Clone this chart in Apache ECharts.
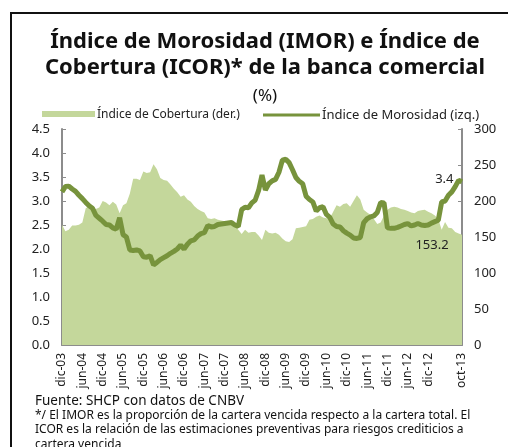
<!DOCTYPE html>
<html>
<head>
<meta charset="utf-8">
<script src="https://cdn.jsdelivr.net/npm/echarts@6/dist/echarts.min.js"></script>
<style>
html,body{margin:0;padding:0;background:#fff;}
#chart{width:508px;height:447px;}
</style>
</head>
<body>
<div id="chart"></div>
<script>
// Monthly data from dic-03 to oct-13
var monthNames = ["ene","feb","mar","abr","may","jun","jul","ago","sep","oct","nov","dic"];
var startYear = 2003, startMonth = 11; // dic-03 (0-based month index)

// Índice de Morosidad (IMOR, %, left axis)
var imor = [
  3.19,3.30,3.31,3.25,3.20,3.12,3.05,2.97,2.90,2.85,2.70,2.64,
  2.58,2.51,2.50,2.44,2.41,2.65,2.30,2.25,1.98,1.97,1.98,1.96,
  1.84,1.83,1.86,1.67,1.72,1.78,1.82,1.86,1.91,1.95,2.00,2.08,
  2.00,2.10,2.17,2.19,2.27,2.32,2.34,2.49,2.46,2.47,2.51,2.52,
  2.53,2.54,2.55,2.50,2.47,2.82,2.87,2.86,2.96,3.02,3.22,3.54,
  3.23,3.36,3.42,3.45,3.60,3.85,3.87,3.80,3.65,3.49,3.41,3.36,
  3.10,3.03,2.98,2.79,2.86,2.88,2.72,2.66,2.52,2.47,2.46,2.38,
  2.33,2.29,2.23,2.22,2.24,2.55,2.63,2.67,2.69,2.76,2.97,2.96,
  2.44,2.43,2.43,2.45,2.48,2.51,2.53,2.48,2.50,2.53,2.50,2.49,
  2.50,2.54,2.57,2.60,2.98,3.00,3.12,3.19,3.30,3.43,3.40
];

// Índice de Cobertura (ICOR, %, right axis)
var icor = [
  167,158,160,166,166,167,170,190,193,190,189,191,
  200,198,194,199,195,183,194,197,210,231,231,229,
  241,239,240,251,244,232,229,228,223,217,212,206,
  208,202,199,193,189,186,184,176,175,176,174,173,
  172,171,168,165,160,154,160,156,157,157,152,146,
  160,156,155,156,153,148,144,143,147,162,163,164,
  165,174,175,178,180,177,176,176,185,194,192,196,
  197,192,200,208,202,188,184,181,175,168,170,180,
  188,191,192,191,189,188,186,184,183,186,187,188,
  185,183,180,175,160,171,163,162,157,155,153.2
];

var leftTicks = [0,0.5,1,1.5,2,2.5,3,3.5,4,4.5];
var rightTicks = [0,50,100,150,200,250,300];

var imorLabel = "3.4";
var icorLabel = "153.2";

var titleLines = ["Índice de Morosidad (IMOR) e Índice de", "Cobertura (ICOR)* de la banca comercial"];
var subtitle = "(%)";
var legendNames = ["Índice de Cobertura (der.)", "Índice de Morosidad (izq.)"];
var footLines = [
  "Fuente: SHCP con datos de CNBV",
  "*/ El IMOR es la proporción de la cartera vencida respecto a la cartera total. El",
  "ICOR es la relación de las estimaciones preventivas para riesgos crediticios a",
  "cartera vencida"
];

var categories = [];
for (var k = 0; k < imor.length; k++) {
  var m = (startMonth + k) % 12;
  var y = startYear + Math.floor((startMonth + k) / 12);
  categories.push(monthNames[m] + "-" + String(y % 100).padStart(2, "0"));
}
var last = imor.length - 1;

var FONT = "Noto Sans";
var AREA = "#c4d79b";
var LINE = "#77933c";
var AXIS = "#8c8c8c";

var chart = echarts.init(document.getElementById("chart"), null, {renderer: "canvas"});
var graphics = [
  {type: "rect", shape: {x: 11, y: 13, width: 520, height: 460}, style: {fill: null, stroke: "#111", lineWidth: 2}, silent: true},
  {type: "text", x: 265, y: 42, style: {text: titleLines[0], font: "bold 22px '" + FONT + "'", fill: "#111", align: "center", verticalAlign: "middle"}},
  {type: "text", x: 265, y: 68, style: {text: titleLines[1], font: "bold 22px '" + FONT + "'", fill: "#111", align: "center", verticalAlign: "middle"}},
  {type: "text", x: 265, y: 96, style: {text: subtitle, font: "17px '" + FONT + "'", fill: "#111", align: "center", verticalAlign: "middle"}},
  {type: "rect", shape: {x: 42, y: 111, width: 53, height: 6}, style: {fill: AREA}},
  {type: "text", x: 97, y: 115, style: {text: legendNames[0], font: "12px '" + FONT + "'", fill: "#222", align: "left", verticalAlign: "middle"}},
  {type: "line", shape: {x1: 263, y1: 115, x2: 320, y2: 115}, style: {stroke: LINE, lineWidth: 3}},
  {type: "text", x: 322, y: 115, style: {text: legendNames[1], font: "13px '" + FONT + "'", fill: "#222", align: "left", verticalAlign: "middle"}}
];
footLines.forEach(function (t, i) {
  graphics.push({type: "text", x: 35, y: 401 + i * 14.5, style: {text: t, font: (i === 0 ? "13.5px '" : "12px '") + FONT + "'", fill: "#111", align: "left", verticalAlign: "middle"}});
});

function pointMark(coordValue, text, position, offset) {
  return {
    symbol: "circle", symbolSize: 1, silent: true,
    itemStyle: {color: "rgba(0,0,0,0)"},
    data: [{coord: [last, coordValue], value: text}],
    label: {show: true, formatter: text, position: position, distance: 4, offset: offset,
      color: "#222", fontFamily: FONT, fontSize: 13}
  };
}

chart.setOption({
  animation: false,
  backgroundColor: "#fff",
  grid: {left: 62, right: 46, top: 129, bottom: 102, containLabel: false},
  xAxis: {
    type: "category",
    data: categories,
    boundaryGap: false,
    axisLine: {lineStyle: {color: AXIS, width: 2}},
    axisTick: {show: false},
    axisLabel: {
      rotate: 90, margin: 8, color: "#222", fontFamily: FONT, fontSize: 12,
      interval: function (i) { return (i % 6 === 0 && i <= 108) || i === last; }
    },
    splitLine: {show: false}
  },
  yAxis: [
    {
      type: "value", min: leftTicks[0], max: leftTicks[leftTicks.length - 1], interval: 0.5,
      position: "left",
      axisLine: {show: true, lineStyle: {color: AXIS, width: 2}},
      axisTick: {show: true, inside: true, length: 4, lineStyle: {color: AXIS}},
      axisLabel: {margin: 12, color: "#222", fontFamily: FONT, fontSize: 13, formatter: function (v) { return v.toFixed(1); }},
      splitLine: {show: false}
    },
    {
      type: "value", min: rightTicks[0], max: rightTicks[rightTicks.length - 1], interval: 50,
      position: "right",
      axisLine: {show: true, lineStyle: {color: AXIS, width: 2}},
      axisTick: {show: true, inside: true, length: 4, lineStyle: {color: AXIS}},
      axisLabel: {margin: 12, color: "#222", fontFamily: FONT, fontSize: 13},
      splitLine: {show: false}
    }
  ],
  series: [
    {
      name: legendNames[0], type: "line", yAxisIndex: 1, data: icor,
      showSymbol: false, symbol: "none", lineStyle: {width: 0}, itemStyle: {color: AREA},
      areaStyle: {color: AREA, opacity: 1}, z: 1,
      markPoint: pointMark(icor[last], icorLabel, "bottom", [-30, 0])
    },
    {
      name: legendNames[1], type: "line", yAxisIndex: 0, data: imor,
      showSymbol: false, symbol: "none", lineStyle: {width: 5, color: LINE}, itemStyle: {color: LINE}, z: 3,
      markPoint: pointMark(imor[last], imorLabel, "left", [-4, -3])
    }
  ],
  graphic: graphics
});
</script>
</body>
</html>
